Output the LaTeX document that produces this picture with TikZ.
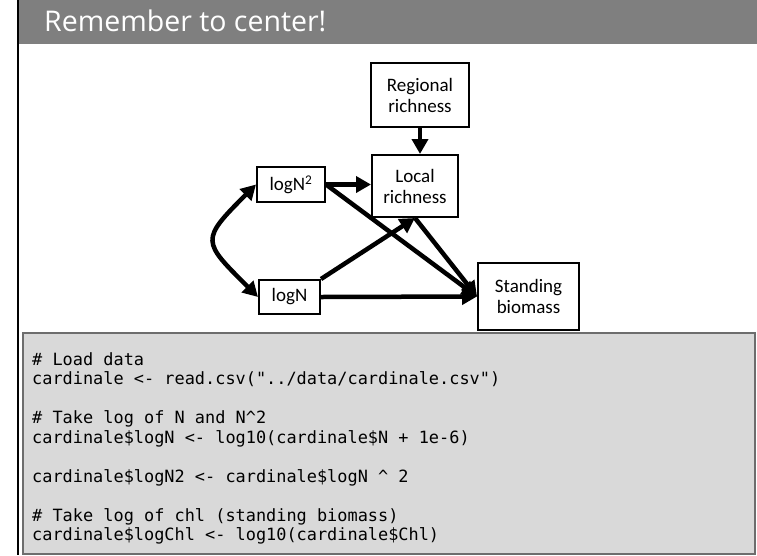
\documentclass[tikz,border=0pt]{standalone}
\usepackage{fontspec}
\setmainfont{Carlito}
\setmonofont{DejaVu Sans Mono}
\newfontfamily\titrefont{Open Sans}
\usetikzlibrary{arrows.meta}
\definecolor{bandeau}{HTML}{7F7F7F}
\definecolor{fondcode}{HTML}{D9D9D9}
\definecolor{bordcode}{HTML}{6D6D6D}
\tikzset{
  boite/.style={draw,line width=2pt,align=center,inner sep=2pt,font=\fontsize{19}{21}\selectfont},
  fleche/.style={line width=4.5pt,-{Triangle[length=15pt,width=16pt]}},
  flechedouble/.style={line width=4.5pt,{Triangle[length=15pt,width=16pt]}-{Triangle[length=15pt,width=16pt]}},
}
\begin{document}
\begin{tikzpicture}[x=1pt,y=-1pt]
\useasboundingbox(0,0)rectangle(757,555);
% Mise en place
\fill[bandeau](19,0)rectangle(757,44);
\draw[line width=2pt](18,0)--(18,555);
\node[anchor=base west,text=white,inner sep=0,font=\titrefont\fontsize{28.5}{32}\selectfont](titre)at(44,31){Remember to center!};
% Boites du modele
\node[boite,minimum width=98pt,minimum height=64pt](reg)at(420,95){Regional\\richness};
\node[boite,minimum width=86pt,minimum height=62pt](loc)at(415,186){Local\\richness};
\node[boite,minimum width=68pt,minimum height=35pt](logNsq)at(291,184.5){logN\textsuperscript{2}};
\node[boite,minimum width=61pt,minimum height=34pt](logN)at(289.5,297){logN};
\node[boite,minimum width=101pt,minimum height=67pt](bio)at(528.5,296.5){Standing\\biomass};
% Fleches
\draw[fleche](reg.south)--(reg.south|-loc.north);
\draw[fleche](logNsq.east)--(logNsq.east-|loc.west);
\draw[fleche](logNsq.east)--(bio.west);
\draw[fleche](logN.north east)--(loc.south);
\draw[fleche](logN.east)--(bio.west);
\draw[fleche](loc.south)--(bio.west);
\draw[flechedouble](logNsq.west)to[out=225,in=135,looseness=1.8](logN.west);
% Code R
\filldraw[fill=fondcode,draw=bordcode,line width=2pt](23,333)rectangle(755,554);
\node[anchor=north west,inner sep=0,align=left,font=\ttfamily\fontsize{16.9}{19.5}\selectfont](code)at(32,352){%
\# Load data\\
cardinale <- read.csv("../data/cardinale.csv")\\
\strut\\
\# Take log of N and N\textasciicircum 2\\
cardinale\$logN <- log10(cardinale\$N + 1e-6)\\
\strut\\
cardinale\$logN2 <- cardinale\$logN \textasciicircum{} 2\\
\strut\\
\# Take log of chl (standing biomass)\\
cardinale\$logChl <- log10(cardinale\$Chl)};
\end{tikzpicture}
\end{document}
